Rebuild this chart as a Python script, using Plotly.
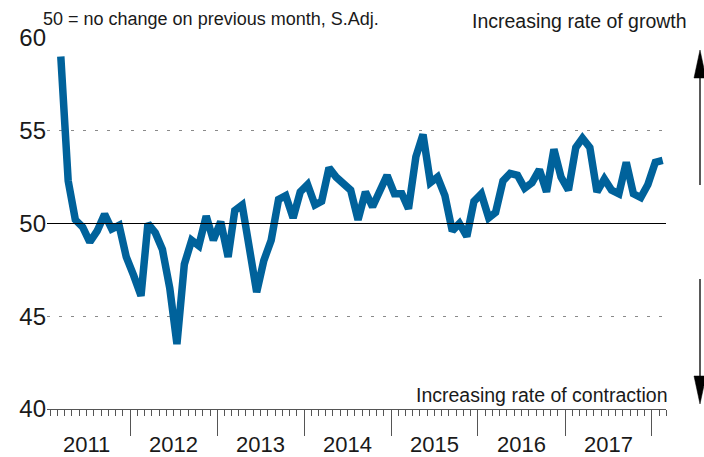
import pandas as pd
import plotly.graph_objects as go

# Monthly index values, March 2011 - February 2018 (50 = no change)
start_month = "2011-03-01"
values = [
    59.0, 52.3, 50.2, 49.8, 49.0, 49.6, 50.5, 49.7, 49.9, 48.2,
    47.2, 46.1, 50.0, 49.5, 48.6, 46.5, 43.5, 47.8, 49.1, 48.8,
    50.4, 49.1, 50.1, 48.2, 50.7, 51.0, 48.7, 46.3, 48.0, 49.1,
    51.3, 51.5, 50.3, 51.7, 52.1, 51.0, 51.2, 53.0, 52.5, 52.2,
    51.8, 50.2, 51.7, 50.9, 51.8, 52.6, 51.6, 51.6, 50.8, 53.6,
    54.8, 52.2, 52.5, 51.5, 49.6, 50.0, 49.3, 51.2, 51.6, 50.3,
    50.6, 52.3, 52.7, 52.6, 51.9, 52.2, 52.9, 51.7, 54.0, 52.5,
    51.8, 54.1, 54.6, 54.1, 51.7, 52.4, 51.8, 51.6, 53.3, 51.6,
    51.4, 52.1, 53.3, 53.4,
]
years = [2011, 2012, 2013, 2014, 2015, 2016, 2017]
y_ticks = [40, 45, 50, 55, 60]
note_text = "50 = no change on previous month, S.Adj."
growth_text = "Increasing rate of growth"
contraction_text = "Increasing rate of contraction"

dates = pd.date_range(start_month, periods=len(values), freq="MS") + pd.Timedelta(days=14)

LINE_COLOR = "#00629B"
TEXT_COLOR = "#1a1a1a"
FONT = "Arial, Liberation Sans, sans-serif"

W, H = 704, 457
# plot area in window pixels: left 47, right 666, top 38, bottom 409
L, R, T, B = 47, 704 - 666, 38, 457 - 409
pw, ph = W - L - R, H - T - B


def px(xw):
    return (xw - L) / pw


def py(yw):
    return (H - B - yw) / ph


fig = go.Figure()
fig.add_trace(go.Scatter(
    x=dates, y=values, mode="lines",
    line=dict(color=LINE_COLOR, width=7.5),
    showlegend=False, hoverinfo="x+y",
))

shapes = [
    # reference line at 50
    dict(type="line", xref="paper", yref="y", x0=0, x1=1, y0=50, y1=50,
         line=dict(color="#000000", width=1.2), layer="above"),
    # up arrow shaft + head
    dict(type="line", xref="paper", yref="paper", x0=px(700), x1=px(700),
         y0=py(185), y1=py(76), line=dict(color="#000000", width=1.3)),
    dict(type="path", xref="paper", yref="paper",
         path=f"M {px(694)} {py(78)} L {px(706)} {py(78)} L {px(700)} {py(50)} Z",
         fillcolor="#000000", line=dict(color="#000000", width=0.5)),
    # down arrow shaft + head
    dict(type="line", xref="paper", yref="paper", x0=px(700), x1=px(700),
         y0=py(279), y1=py(378), line=dict(color="#000000", width=1.3)),
    dict(type="path", xref="paper", yref="paper",
         path=f"M {px(694)} {py(376)} L {px(706)} {py(376)} L {px(700)} {py(404)} Z",
         fillcolor="#000000", line=dict(color="#000000", width=0.5)),
]

annotations = [
    dict(text=note_text, xref="paper", yref="paper", x=px(41), y=py(19),
         xanchor="left", yanchor="middle", showarrow=False,
         font=dict(size=18, color=TEXT_COLOR, family=FONT)),
    dict(text=growth_text, xref="paper", yref="paper", x=px(689), y=py(21),
         xanchor="right", yanchor="middle", showarrow=False,
         font=dict(size=19.5, color=TEXT_COLOR, family=FONT)),
    dict(text=contraction_text, xref="paper", yref="paper", x=px(669), y=py(395),
         xanchor="right", yanchor="middle", showarrow=False,
         font=dict(size=19.5, color=TEXT_COLOR, family=FONT)),
]
# year labels, centred in each calendar year
for yr in years:
    annotations.append(dict(
        text=str(yr), xref="x", yref="paper", x=f"{yr}-07-02", y=py(444),
        xanchor="center", yanchor="middle", showarrow=False,
        font=dict(size=22, color=TEXT_COLOR, family=FONT)))

fig.update_layout(
    width=W, height=H,
    margin=dict(l=L, r=R, t=T, b=B, pad=0, autoexpand=False),
    paper_bgcolor="white", plot_bgcolor="white",
    font=dict(family=FONT, color=TEXT_COLOR),
    shapes=shapes, annotations=annotations,
    xaxis=dict(
        type="date", automargin=False,
        range=["2011-01-16", "2018-03-01"],
        tick0="2011-01-01", dtick="M12",
        showticklabels=False,
        ticks="outside", ticklen=26, tickwidth=1, tickcolor="#555555",
        minor=dict(dtick="M1", ticks="outside", ticklen=6, tickwidth=1,
                   tickcolor="#555555", showgrid=False),
        showline=True, linecolor="#555555", linewidth=1,
        showgrid=False, zeroline=False,
    ),
    yaxis=dict(
        range=[40, 60], tickvals=y_ticks, automargin=False,
        showgrid=True, gridcolor="#8a8a8a", gridwidth=1, griddash="3px,9px",
        zeroline=False, showline=False, ticks="",
        tickfont=dict(size=24, color=TEXT_COLOR, family=FONT),
    ),
)

# remove the default page margin so the 704x457 figure fills the window exactly
fig.write_html(
    "out.html",
    config={"displayModeBar": False},
    post_script="document.body.style.margin='0';document.body.style.overflow='hidden';",
)
